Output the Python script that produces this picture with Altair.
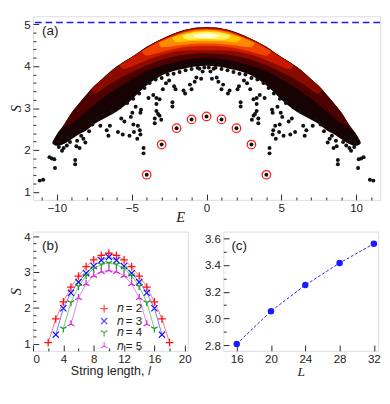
import altair as alt
import pandas as pd

# ---------------- Panel (a): entanglement entropy S vs energy E ----------------
cloud_E = [-10.3, -10.0, -9.5, -9.0, -8.5, -8.0, -7.5, -7.0, -6.5, -6.0, -5.5, -5.0, -4.5, -4.0, -3.5, -3.0, -2.5, -2.0, -1.5, -1.0, -0.5, 0.0,
           0.5, 1.0, 1.5, 2.0, 2.5, 3.0, 3.5, 4.0, 4.5, 5.0, 5.5, 6.0, 6.5, 7.0, 7.5, 8.0, 8.5, 9.0, 9.5, 10.0, 10.3]
cloud_hi = [2.20, 2.38, 2.62, 2.90, 3.12, 3.33, 3.53, 3.69, 3.85, 3.99, 4.11, 4.22, 4.34, 4.46, 4.56, 4.65, 4.73, 4.80, 4.86, 4.90, 4.92, 4.93,
            4.92, 4.90, 4.86, 4.80, 4.73, 4.65, 4.56, 4.46, 4.34, 4.22, 4.11, 3.99, 3.85, 3.69, 3.53, 3.33, 3.12, 2.90, 2.62, 2.38, 2.20]
cloud_lo = [2.15, 2.10, 2.15, 2.26, 2.38, 2.48, 2.62, 2.72, 2.82, 2.92, 3.05, 3.20, 3.38, 3.54, 3.67, 3.78, 3.85, 3.90, 3.94, 3.98, 4.00, 4.01,
            4.00, 3.98, 3.94, 3.90, 3.85, 3.78, 3.67, 3.54, 3.38, 3.20, 3.05, 2.92, 2.82, 2.72, 2.62, 2.48, 2.38, 2.26, 2.15, 2.10, 2.15]

bandA_E = [-9.7, -9.5, -9.0, -8.5, -8.0, -7.5, -7.0, -6.5, -6.0, -5.5, -5.0, -4.5, -4.0, -3.5, -3.0, -2.5, -2.0, -1.5, -1.0, -0.5, 0.0,
           0.5, 1.0, 1.5, 2.0, 2.5, 3.0, 3.5, 4.0, 4.5, 5.0, 5.5, 6.0, 6.5, 7.0, 7.5, 8.0, 8.5, 9.0, 9.5, 9.7]
bandA_hi = [2.50, 2.62, 2.90, 3.12, 3.33, 3.53, 3.69, 3.85, 3.99, 4.11, 4.22, 4.34, 4.46, 4.56, 4.65, 4.73, 4.80, 4.86, 4.90, 4.92, 4.93,
            4.92, 4.90, 4.86, 4.80, 4.73, 4.65, 4.56, 4.46, 4.34, 4.22, 4.11, 3.99, 3.85, 3.69, 3.53, 3.33, 3.12, 2.90, 2.62, 2.50]
bandA_lo = [2.48, 2.55, 2.62, 2.78, 2.93, 3.08, 3.22, 3.35, 3.47, 3.58, 3.69, 3.79, 3.88, 3.95, 4.01, 4.06, 4.10, 4.14, 4.17, 4.19, 4.20,
            4.19, 4.17, 4.14, 4.10, 4.06, 4.01, 3.95, 3.88, 3.79, 3.69, 3.58, 3.47, 3.35, 3.22, 3.08, 2.93, 2.78, 2.62, 2.55, 2.48]

bandB_E = [-7.7, -7.5, -7.0, -6.5, -6.0, -5.5, -5.0, -4.5, -4.0, -3.5, -3.0, -2.5, -2.0, -1.5, -1.0, -0.5, 0.0,
           0.5, 1.0, 1.5, 2.0, 2.5, 3.0, 3.5, 4.0, 4.5, 5.0, 5.5, 6.0, 6.5, 7.0, 7.5, 7.7]
bandB_hi = [3.45, 3.52, 3.68, 3.84, 3.98, 4.10, 4.21, 4.33, 4.45, 4.55, 4.64, 4.72, 4.79, 4.85, 4.89, 4.91, 4.92,
            4.91, 4.89, 4.85, 4.79, 4.72, 4.64, 4.55, 4.45, 4.33, 4.21, 4.10, 3.98, 3.84, 3.68, 3.52, 3.45]
bandB_lo = [3.43, 3.34, 3.44, 3.56, 3.67, 3.77, 3.86, 3.94, 4.02, 4.09, 4.15, 4.20, 4.24, 4.27, 4.29, 4.30, 4.30,
            4.30, 4.29, 4.27, 4.24, 4.20, 4.15, 4.09, 4.02, 3.94, 3.86, 3.77, 3.67, 3.56, 3.44, 3.34, 3.43]

bandC_E = [-5.8, -5.5, -5.0, -4.5, -4.0, -3.5, -3.0, -2.5, -2.0, -1.5, -1.0, -0.5, 0.0,
           0.5, 1.0, 1.5, 2.0, 2.5, 3.0, 3.5, 4.0, 4.5, 5.0, 5.5, 5.8]
bandC_hi = [4.03, 4.09, 4.20, 4.32, 4.44, 4.54, 4.63, 4.71, 4.78, 4.84, 4.88, 4.90, 4.91,
            4.90, 4.88, 4.84, 4.78, 4.71, 4.63, 4.54, 4.44, 4.32, 4.20, 4.09, 4.03]
bandC_lo = [4.00, 3.93, 3.99, 4.07, 4.14, 4.21, 4.27, 4.31, 4.35, 4.37, 4.38, 4.38, 4.38,
            4.38, 4.38, 4.37, 4.35, 4.31, 4.27, 4.21, 4.14, 4.07, 3.99, 3.93, 4.00]

bandD_E = [-4.3, -4.0, -3.5, -3.0, -2.5, -2.0, -1.5, -1.0, -0.5, 0.0,
           0.5, 1.0, 1.5, 2.0, 2.5, 3.0, 3.5, 4.0, 4.3]
bandD_hi = [4.36, 4.42, 4.52, 4.61, 4.69, 4.76, 4.82, 4.86, 4.88, 4.89,
            4.88, 4.86, 4.82, 4.76, 4.69, 4.61, 4.52, 4.42, 4.36]
bandD_lo = [4.33, 4.25, 4.29, 4.34, 4.38, 4.42, 4.45, 4.47, 4.48, 4.48,
            4.48, 4.47, 4.45, 4.42, 4.38, 4.34, 4.29, 4.25, 4.33]

bandE_E = [-3.2, -3.0, -2.5, -2.0, -1.5, -1.0, -0.5, 0.0, 0.5, 1.0, 1.5, 2.0, 2.5, 3.0, 3.2]
bandE_hi = [4.56, 4.59, 4.67, 4.74, 4.80, 4.84, 4.86, 4.87, 4.86, 4.84, 4.80, 4.74, 4.67, 4.59, 4.56]
bandE_lo = [4.54, 4.45, 4.46, 4.49, 4.51, 4.53, 4.54, 4.54, 4.54, 4.53, 4.51, 4.49, 4.46, 4.45, 4.54]

bandF_E = [-2.3, -2.0, -1.5, -1.0, -0.5, 0.0, 0.5, 1.0, 1.5, 2.0, 2.3]
bandF_hi = [4.68, 4.72, 4.77, 4.81, 4.84, 4.85, 4.84, 4.81, 4.77, 4.72, 4.68]
bandF_lo = [4.66, 4.57, 4.58, 4.60, 4.60, 4.60, 4.60, 4.60, 4.58, 4.57, 4.66]

bandG_E = [-1.6, -1.5, -1.0, -0.5, 0.0, 0.5, 1.0, 1.5, 1.6]
bandG_hi = [4.74, 4.75, 4.79, 4.81, 4.82, 4.81, 4.79, 4.75, 4.74]
bandG_lo = [4.72, 4.66, 4.63, 4.64, 4.64, 4.64, 4.63, 4.66, 4.72]

bandH_E = [-0.9, -0.5, 0.0, 0.5, 0.9]
bandH_hi = [4.75, 4.77, 4.78, 4.77, 4.75]
bandH_lo = [4.73, 4.67, 4.67, 4.67, 4.73]

band_colors = ["#170303", "#4d0000", "#8b0a00", "#c81800", "#ee4400", "#ff8a00", "#ffc400", "#fff060", "#ffffd0"]

dots_left_E = [-11.15, -10.92, -10.50, -10.34, -10.17, -10.13, -8.78, -8.78, -9.66, -9.87, -9.34, -9.13, -8.70, -8.49, -8.10, -8.23,
               -8.65, -8.38, -9.55, -9.90, -9.70, -7.63, -7.10, -6.67, -6.56, -6.46, -5.92, -5.60, -5.15, -4.85, -4.63, -4.42,
               -4.46, -4.89, -4.59, -5.70, -5.49, -5.06, -4.96, -4.74, -4.42, -4.38, -4.21, -4.21, -3.46, -3.46, -3.14, -3.03,
               -3.35, -3.24, -2.28, -2.28, -3.35, -3.88, -3.56, -3.35, -3.14, -2.07, -2.17, -1.54, -1.43, -1.00, -1.11, -0.68,
               -0.36, -0.79, -0.26, -0.47, -2.92, -2.71, -2.50, -7.30, -6.90, -6.30, -5.80, -5.30, -4.90, -4.50, -4.15, -3.80,
               -3.40, -3.00, -2.60, -2.20, -1.80, -1.40, -1.00, -0.60, -0.15, -7.85, -9.30]
dots_left_S = [1.27, 1.29, 1.83, 1.80, 1.78, 1.57, 1.76, 1.66, 1.98, 2.07, 2.11, 2.19, 2.09, 2.05, 2.18, 2.27,
               2.22, 2.34, 2.05, 2.20, 2.30, 2.61, 2.58, 2.47, 2.34, 2.58, 2.43, 2.37, 2.34, 2.43, 2.27, 2.37,
               2.47, 2.61, 2.58, 2.75, 2.68, 2.79, 2.89, 3.03, 2.89, 2.96, 2.05, 1.92, 2.75, 2.64, 2.82, 2.72,
               2.93, 2.86, 3.14, 3.04, 3.10, 3.24, 3.31, 3.24, 3.21, 3.45, 3.52, 3.42, 3.35, 3.45, 3.56, 3.73,
               3.70, 3.63, 3.87, 3.94, 3.45, 3.59, 3.66, 2.75, 2.85, 2.92, 3.02, 3.12, 3.22, 3.35, 3.48, 3.60,
               3.68, 3.72, 3.80, 3.82, 3.86, 3.90, 3.93, 3.96, 3.97, 2.45, 2.30]
dots_right_E = [11.15, 10.92, 10.50, 10.34, 10.17, 10.13, 8.78, 8.78, 9.66, 9.87, 9.34, 9.13, 8.70, 8.49, 8.10, 8.23,
                8.65, 8.38, 9.55, 9.90, 9.70, 7.63, 7.10, 6.67, 6.56, 6.46, 5.92, 5.60, 5.15, 4.85, 4.63, 4.42,
                4.46, 4.89, 4.59, 5.70, 5.49, 5.06, 4.96, 4.74, 4.42, 4.38, 4.21, 4.21, 3.46, 3.46, 3.14, 3.03,
                3.35, 3.24, 2.28, 2.28, 3.35, 3.88, 3.56, 3.35, 3.14, 2.07, 2.17, 1.54, 1.43, 1.00, 1.11, 0.68,
                0.36, 0.79, 0.26, 0.47, 2.92, 2.71, 2.50, 7.30, 6.90, 6.30, 5.80, 5.30, 4.90, 4.50, 4.15, 3.80,
                3.40, 3.00, 2.60, 2.20, 1.80, 1.40, 1.00, 0.60, 0.15, 7.85, 9.30]
dots_right_S = [1.27, 1.29, 1.83, 1.80, 1.78, 1.57, 1.76, 1.66, 1.98, 2.07, 2.11, 2.19, 2.09, 2.05, 2.18, 2.27,
                2.22, 2.34, 2.05, 2.20, 2.30, 2.61, 2.58, 2.47, 2.34, 2.58, 2.43, 2.37, 2.34, 2.43, 2.27, 2.37,
                2.47, 2.61, 2.58, 2.75, 2.68, 2.79, 2.89, 3.03, 2.89, 2.96, 2.05, 1.92, 2.75, 2.64, 2.82, 2.72,
                2.93, 2.86, 3.14, 3.04, 3.10, 3.24, 3.31, 3.24, 3.21, 3.45, 3.52, 3.42, 3.35, 3.45, 3.56, 3.73,
                3.70, 3.63, 3.87, 3.94, 3.45, 3.59, 3.66, 2.75, 2.85, 2.92, 3.02, 3.12, 3.22, 3.35, 3.48, 3.60,
                3.68, 3.72, 3.80, 3.82, 3.86, 3.90, 3.93, 3.96, 3.97, 2.45, 2.30]

scar_E = [-4, -3, -2, -1, 0, 1, 2, 3, 4]
scar_S = [1.41, 2.13, 2.52, 2.73, 2.80, 2.73, 2.52, 2.13, 1.41]
page_S = [5.04]

ticks_aE = [-11, -10, -9, -8, -7, -6, -5, -4, -3, -2, -1, 0, 1, 2, 3, 4, 5, 6, 7, 8, 9, 10, 11]
ticks_aS = [1.0, 1.2, 1.4, 1.6, 1.8, 2.0, 2.2, 2.4, 2.6, 2.8, 3.0, 3.2, 3.4, 3.6, 3.8, 4.0, 4.2, 4.4, 4.6, 4.8, 5.0]

# ---------------- Panel (b): S vs string length l ----------------
l_n2 = [2, 3, 4, 5, 6, 7, 8, 9, 10, 11, 12, 13, 14, 15, 16, 17, 18]
S_n2 = [1.03, 1.69, 2.17, 2.58, 2.89, 3.15, 3.34, 3.47, 3.53, 3.47, 3.34, 3.15, 2.89, 2.58, 2.17, 1.69, 1.03]
l_n3 = [3, 4, 5, 6, 7, 8, 9, 10, 11, 12, 13, 14, 15, 16, 17]
S_n3 = [1.25, 1.99, 2.42, 2.72, 2.97, 3.17, 3.33, 3.42, 3.33, 3.17, 2.97, 2.72, 2.42, 1.99, 1.25]
l_n4 = [4, 5, 6, 7, 8, 9, 10, 11, 12, 13, 14, 15, 16]
S_n4 = [1.42, 2.15, 2.60, 2.90, 3.10, 3.21, 3.25, 3.21, 3.10, 2.90, 2.60, 2.15, 1.42]
l_n5 = [5, 6, 7, 8, 9, 10, 11, 12, 13, 14, 15]
S_n5 = [1.55, 2.28, 2.67, 2.90, 3.01, 3.05, 3.01, 2.90, 2.67, 2.28, 1.55]
series_names = ["\U0001D45B = 2", "\U0001D45B = 3", "\U0001D45B = 4", "\U0001D45B = 5"]
series_colors = ["#ff1010", "#1515ff", "#1f9a1f", "#d42ad4"]
series_shapes = ["M-1,0H1M0,-1V1",
                 "M-0.8,-0.8L0.8,0.8M-0.8,0.8L0.8,-0.8",
                 "M0,0V1M0,0L-0.87,-0.5M0,0L0.87,-0.5",
                 "M0,0V-1M0,0L-0.87,0.5M0,0L0.87,0.5"]
ticks_bl = [0, 2, 4, 6, 8, 10, 12, 14, 16, 18, 20]
ticks_bS = [1.0, 1.2, 1.4, 1.6, 1.8, 2.0, 2.2, 2.4, 2.6, 2.8, 3.0, 3.2, 3.4, 3.6, 3.8, 4.0]

# ---------------- Panel (c): S vs L ----------------
L_vals = [16, 20, 24, 28, 32]
S_L = [2.81, 3.055, 3.25, 3.415, 3.56]
ticks_cL = [16, 20, 24, 28, 32]
ticks_cS = [2.8, 2.9, 3.0, 3.1, 3.2, 3.3, 3.4, 3.5, 3.6]

# ---------------- layout ----------------
H_A, GAP, H_B = 191, 33, 124
TICK = 6
INK = "#222222"


def frame_axis(values, major_test, title, fmt=None, **kw):
    args = dict(values=values, tickSize=TICK, offset=-TICK, domain=False, grid=False,
                tickColor=INK, tickWidth=1,
                tickDash={"condition": {"test": major_test, "value": [6, 0]}, "value": [0, 3, 3, 0]},
                labelExpr=f"({major_test}) ? datum.label : ''",
                labelFont="Liberation Sans", labelFontSize=12, labelColor=INK, labelPadding=3,
                labelOverlap=False,
                title=title, titleFont="Liberation Serif", titleFontStyle="italic", titleFontSize=15,
                titleFontWeight="normal", titleColor=INK)
    if fmt:
        args["format"] = fmt
    args.update(kw)
    return alt.Axis(**args)


ax_aE = frame_axis(ticks_aE, "datum.value % 5 === 0", "E", titleX=153, titleY=24,
                   titleAlign="center", titleBaseline="middle")
ax_aS = frame_axis(ticks_aS, "datum.value % 1 === 0", "S", fmt=".0f", titlePadding=0)
sc_aE = alt.Scale(domain=[-11.6, 11.6], nice=False, zero=False)
sc_aS = alt.Scale(domain=[0.81, 5.19], nice=False, zero=False)


def xa(f):
    return alt.X(f, scale=sc_aE, axis=ax_aE)


def ya(f):
    return alt.Y(f, scale=sc_aS, axis=ax_aS)


def band(E, lo, hi, color):
    df = pd.DataFrame({"E": E, "lo": lo, "hi": hi})
    return alt.Chart(df).mark_area(color=color, interpolate="monotone", opacity=1).encode(
        x=xa("E:Q"), y=ya("hi:Q"), y2="lo:Q")


bands = [
    band(cloud_E, cloud_lo, cloud_hi, band_colors[0]),
    band(bandA_E, bandA_lo, bandA_hi, band_colors[1]),
    band(bandB_E, bandB_lo, bandB_hi, band_colors[2]),
    band(bandC_E, bandC_lo, bandC_hi, band_colors[3]),
    band(bandD_E, bandD_lo, bandD_hi, band_colors[4]),
    band(bandE_E, bandE_lo, bandE_hi, band_colors[5]),
    band(bandF_E, bandF_lo, bandF_hi, band_colors[6]),
    band(bandG_E, bandG_lo, bandG_hi, band_colors[7]),
    band(bandH_E, bandH_lo, bandH_hi, band_colors[8]),
]

dots_df = pd.DataFrame({"E": dots_left_E + dots_right_E, "S": dots_left_S + dots_right_S})
dots = alt.Chart(dots_df).mark_circle(color="#111111", size=17, opacity=1).encode(x=xa("E:Q"), y=ya("S:Q"))

scar_df = pd.DataFrame({"E": scar_E, "S": scar_S})
scar_dot = alt.Chart(scar_df).mark_circle(color="#111111", size=17, opacity=1).encode(x=xa("E:Q"), y=ya("S:Q"))
scar_ring = alt.Chart(scar_df).mark_point(shape="circle", size=78, color="#ff1a1a", strokeWidth=1.3,
                                          filled=False, opacity=1).encode(x=xa("E:Q"), y=ya("S:Q"))

page_df = pd.DataFrame({"S": page_S})
page_line = alt.Chart(page_df).mark_rule(color="#1a1aff", strokeDash=[7, 4], strokeWidth=1.6).encode(y=ya("S:Q"))


def tag(text, x, y):
    return alt.Chart(pd.DataFrame({"t": [text]})).mark_text(
        font="Liberation Sans", fontSize=14, color=INK, align="center", baseline="middle").encode(
        text="t:N", x=alt.value(x), y=alt.value(y))


panel_a = alt.layer(*bands, page_line, dots, scar_ring, scar_dot, tag("(a)", 18, 15)).properties(
    width=361, height=H_A)

# ---------------- panel (b) ----------------
rows = []
for name, ls, ss in zip(series_names, [l_n2, l_n3, l_n4, l_n5], [S_n2, S_n3, S_n4, S_n5]):
    for l, s in zip(ls, ss):
        rows.append({"l": l, "S": s, "n": name})
b_df = pd.DataFrame(rows)

ax_bl = frame_axis(ticks_bl, "datum.value % 4 === 0", "String length, \U0001D459", titleFont="Liberation Sans",
                   titleFontStyle="normal", titleFontSize=13, titlePadding=1)
ax_bS = frame_axis(ticks_bS, "datum.value % 1 === 0", "S", fmt=".0f", titlePadding=0)
sc_bl = alt.Scale(domain=[0, 20.4], nice=False, zero=False)
sc_bS = alt.Scale(domain=[0.8, 4.13], nice=False, zero=False)

# legend drawn inside panel (b); coordinates are relative to the top-level origin (panel (a) corner)
leg = alt.Legend(title=None, orient="none", legendX=68, legendY=H_A + GAP + 74, labelFont="Liberation Sans",
                 labelFontSize=12, labelColor=INK, symbolSize=64, symbolStrokeWidth=1.3, rowPadding=0,
                 padding=0, labelOffset=7)
color_b = alt.Color("n:N", scale=alt.Scale(domain=series_names, range=series_colors), legend=leg)
shape_b = alt.Shape("n:N", scale=alt.Scale(domain=series_names, range=series_shapes), legend=leg)

b_lines = alt.Chart(b_df).mark_line(strokeWidth=0.8, opacity=0.75).encode(
    x=alt.X("l:Q", scale=sc_bl, axis=ax_bl), y=alt.Y("S:Q", scale=sc_bS, axis=ax_bS), color=color_b)
b_pts = alt.Chart(b_df).mark_point(filled=False, size=64, strokeWidth=1.3, opacity=1).encode(
    x=alt.X("l:Q", scale=sc_bl, axis=ax_bl), y=alt.Y("S:Q", scale=sc_bS, axis=ax_bS), color=color_b,
    shape=shape_b)
panel_b = alt.layer(b_lines, b_pts, tag("(b)", 18, 15)).properties(width=161, height=H_B)

# ---------------- panel (c) ----------------
c_df = pd.DataFrame({"L": L_vals, "S": S_L})
ax_cL = frame_axis(ticks_cL, "datum.value % 4 === 0", "L", titlePadding=1, titleFontSize=14)
ax_cS = frame_axis(ticks_cS, "round(datum.value * 10) % 2 === 0", None, fmt=".1f")
sc_cL = alt.Scale(domain=[14.44, 32.5], nice=False, zero=False)
sc_cS = alt.Scale(domain=[2.758, 3.65], nice=False, zero=False)
c_line = alt.Chart(c_df).mark_line(color="#1a1aff", strokeDash=[3, 2], strokeWidth=1).encode(
    x=alt.X("L:Q", scale=sc_cL, axis=ax_cL), y=alt.Y("S:Q", scale=sc_cS, axis=ax_cS))
c_pts = alt.Chart(c_df).mark_circle(color="#1a1aff", size=45, opacity=1).encode(
    x=alt.X("L:Q", scale=sc_cL, axis=ax_cL), y=alt.Y("S:Q", scale=sc_cS, axis=ax_cS))
panel_c = alt.layer(c_line, c_pts, tag("(c)", 16.5, 15)).properties(width=161, height=H_B)

bottom = alt.hconcat(panel_b, panel_c, spacing=37, bounds="flush")
chart = alt.vconcat(panel_a, bottom, spacing=GAP, bounds="flush").properties(
    padding=0, background="white"
).configure_view(stroke=INK, strokeWidth=1.4).configure(font="Liberation Sans")

chart.save("out.html", embed_options={"renderer": "svg", "actions": False})
